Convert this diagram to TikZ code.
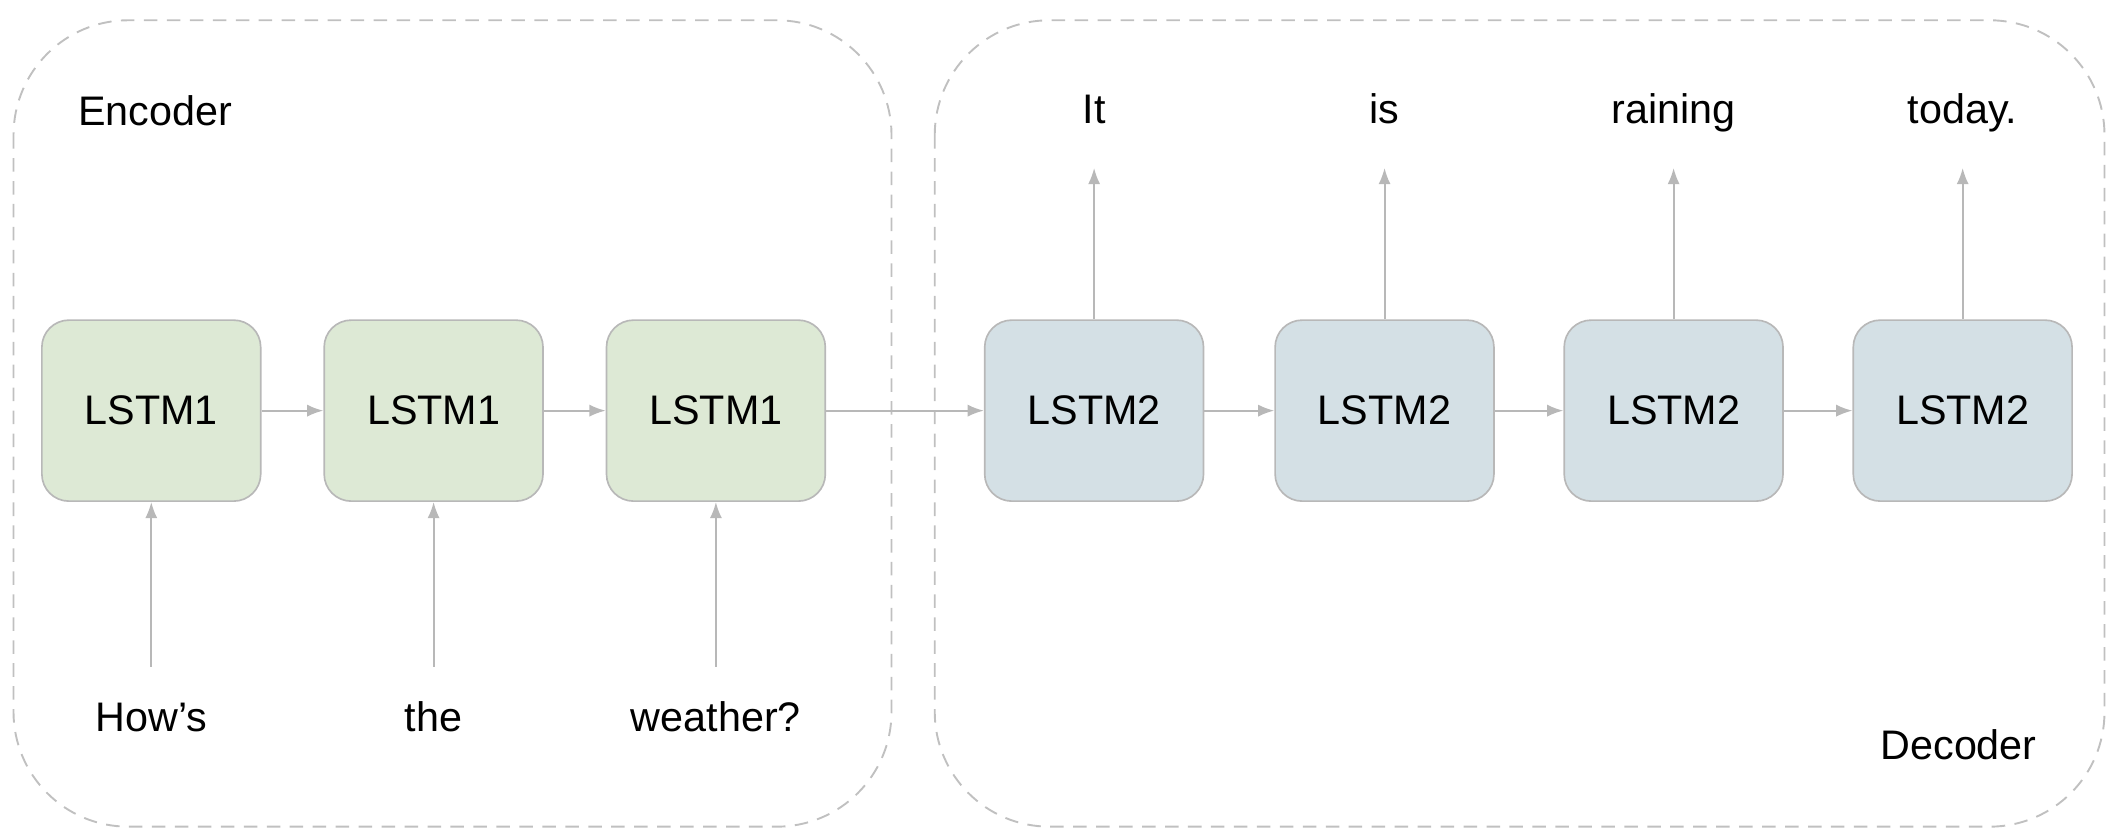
\documentclass[tikz,border=0pt]{standalone}
\usepackage{fontspec}
\setmainfont{Liberation Sans}
\usetikzlibrary{arrows.meta}
\definecolor{encfill}{HTML}{DDE9D5}
\definecolor{decfill}{HTML}{D4E0E5}
\definecolor{linegray}{HTML}{B8B8B8}
\definecolor{framegray}{HTML}{C0C0C0}
\tikzset{
	lstmone/.style={draw=linegray,fill=encfill,line width=0.7pt,rounded corners=4mm,minimum width=32.4mm,minimum height=26.8mm},
	lstmtwo/.style={lstmone,fill=decfill},
	word/.style={inner sep=0pt,minimum height=16mm,text height=12pt,text depth=3.5pt},
	flow/.style={draw=linegray,line width=0.8pt,-{Latex[length=2.4mm,width=1.8mm]}},
	frame/.style={draw=framegray,line width=0.8pt,dash pattern=on 2mm off 1.4mm,rounded corners=17mm}
}

\begin{document}
\begin{tikzpicture}[x=0.2mm,y=-0.2mm,font=\fontsize{17.4}{20}\selectfont]
	\useasboundingbox (0,0) rectangle (1568,620);
	% the two halves
	\draw[frame] (10,15) rectangle (660,612);
	\draw[frame] (692,15) rectangle (1558,612);
	\node (enc) at (115,82) {Encoder};
	\node (dec) at (1450,551) {Decoder};
	% encoder
	\foreach \i/\x/\w in {1/112/How’s,2/321/the,3/530/weather?}{
		\node[lstmone] (e\i) at (\x,304) {LSTM1};
		\node[word] (in\i) at (\x,534) {\w};
		\draw[flow] (in\i) -- (e\i);
	}
	\foreach \a/\b in {1/2,2/3}
		\draw[flow] (e\a) -- (e\b);
	% decoder
	\foreach \i/\x/\w in {1/810/It,2/1025/is,3/1239/raining,4/1453/today.}{
		\node[lstmtwo] (d\i) at (\x,304) {LSTM2};
		\node[word] (out\i) at (\x,84) {\w};
		\draw[flow] (d\i) -- (out\i);
	}
	\foreach \a/\b in {1/2,2/3,3/4}
		\draw[flow] (d\a) -- (d\b);
	\draw[flow] (e3) -- (d1);
\end{tikzpicture}
\end{document}
